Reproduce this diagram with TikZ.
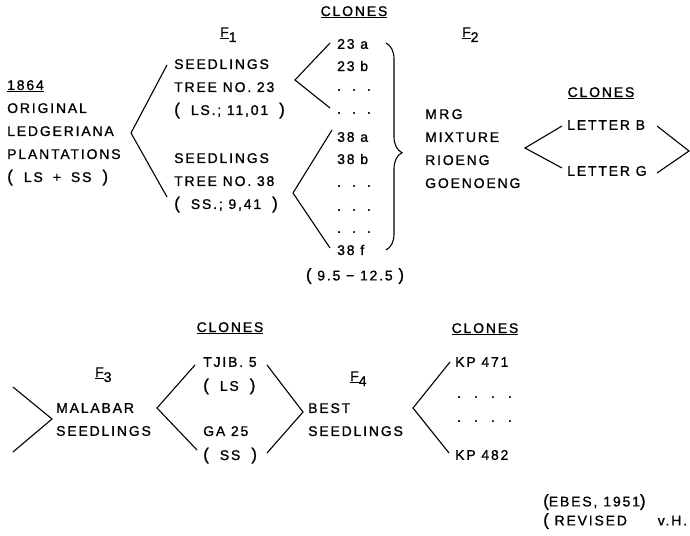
\documentclass[tikz,border=0pt]{standalone}
\usepackage{fontspec}
\setmainfont{Liberation Sans}[LetterSpace=13, FakeBold=1]
\usepackage{tikz}
\usetikzlibrary{decorations.pathreplacing}

\newcommand{\fgen}[1]{\underline{F}\raisebox{-5pt}{\fontsize{14}{14}\selectfont #1}}
\newcommand{\po}{{\fontsize{17}{17}\selectfont(}}
\newcommand{\pc}{{\fontsize{17}{17}\selectfont)}}
\newcommand{\pp}[1]{\po\hspace{11pt}#1\hspace{11pt}\pc}

\begin{document}
\begin{tikzpicture}[x=1pt, y=-1pt,
                lbl/.style={inner sep=0pt, anchor=west, font=\fontsize{14}{23}\selectfont},
                blk/.style={lbl, anchor=north west, align=left},
                head/.style={lbl, anchor=base},
                gen/.style={lbl, anchor=base west},
                fork/.style={line width=1.1pt}
            ]
            \useasboundingbox (0,0) rectangle (690,535);

            % Generations
            \node[gen] (f1) at (220,37) {\fgen{1}};
            \node[gen] (f2) at (462,37) {\fgen{2}};
            \node[gen] (f3) at (95,377) {\fgen{3}};
            \node[gen] (f4) at (350,381) {\fgen{4}};

            % Headings
            \node[head] (clonesA) at (354,16) {\underline{CLONES}};
            \node[head] (clonesB) at (601,97) {\underline{CLONES}};
            \node[head] (clonesC) at (230,332) {\underline{CLONES}};
            \node[head] (clonesD) at (485,333) {\underline{CLONES}};

            % Top row
            \node[blk] (orig) at (7,80) {\underline{1864}\\ORIGINAL\\LEDGERIANA\\PLANTATIONS\\\pp{LS\hspace{10pt}+\hspace{10pt}SS}};
            \node[blk] (seedA) at (174,59) {SEEDLINGS\\TREE NO. 23\\\pp{LS.; 11,01}};
            \node[blk] (seedB) at (174,153) {SEEDLINGS\\TREE NO. 38\\\pp{SS.; 9,41}};

            \node[lbl] (c23a) at (337,44) {23 a};
            \node[lbl] (c23b) at (337,66) {23 b};
            \node[lbl] (c23c) at (337,90) {.\hspace{11pt}.\hspace{11pt}.};
            \node[lbl] (c23d) at (337,113) {.\hspace{11pt}.\hspace{11pt}.};
            \node[lbl] (c38a) at (337,137) {38 a};
            \node[lbl] (c38b) at (337,159) {38 b};
            \node[lbl] (c38c) at (337,186) {.\hspace{11pt}.\hspace{11pt}.};
            \node[lbl] (c38d) at (337,210) {.\hspace{11pt}.\hspace{11pt}.};
            \node[lbl] (c38e) at (337,232) {.\hspace{11pt}.\hspace{11pt}.};
            \node[lbl] (c38f) at (337,250) {38 f};
            \node[lbl, anchor=center] (range) at (355,276) {\po{} 9.5 − 12.5 \pc};

            \node[blk] (mrg) at (425,109) {M\,R\,G\\MIXTURE\\RIOENG\\GOENOENG};
            \node[lbl] (letB) at (567,125) {LETTER B};
            \node[lbl] (letG) at (567,171) {LETTER G};

            % Bottom row
            \node[blk] (malabar) at (56,403) {MALABAR\\SEEDLINGS};
            \node[blk] (tjib) at (203,357) {TJIB. 5\\[1pt]\pp{LS}};
            \node[blk] (ga) at (203,426) {GA 25\\[1pt]\pp{SS}};
            \node[blk] (best) at (308,403) {BEST\\SEEDLINGS};
            \node[lbl] (kpA) at (455,362) {KP 471};
            \node[lbl] (kpB) at (457,397) {.\hspace{13pt}.\hspace{13pt}.\hspace{13pt}.};
            \node[lbl] (kpC) at (457,421) {.\hspace{13pt}.\hspace{13pt}.\hspace{13pt}.};
            \node[lbl] (kpD) at (455,455) {KP 482};

            \node[lbl] (ebes) at (543,502) {\po{}EBES,\hspace{6pt}1951\pc};
            \node[lbl] (rev) at (543,521) {\po{} REVISED\hspace{2.2em}v.H.};

            % Fork points
            \coordinate (aTop) at (167,65);  \coordinate (aTip) at (131,133); \coordinate (aBot) at (167,197);
            \coordinate (bTop) at (330,43);  \coordinate (bTip) at (295,80);  \coordinate (bBot) at (330,108);
            \coordinate (cTop) at (332,130); \coordinate (cTip) at (293,193); \coordinate (cBot) at (330,248);
            \coordinate (dTop) at (562,126); \coordinate (dTip) at (525,148); \coordinate (dBot) at (562,168);
            \coordinate (eTop) at (657,126); \coordinate (eTip) at (689,151); \coordinate (eBot) at (657,173);
            \coordinate (fTop) at (13,387);  \coordinate (fTip) at (52,419);  \coordinate (fBot) at (13,452);
            \coordinate (gTop) at (195,365); \coordinate (gTip) at (157,408); \coordinate (gBot) at (197,450);
            \coordinate (hTop) at (267,365); \coordinate (hTip) at (303,412); \coordinate (hBot) at (267,453);
            \coordinate (iTop) at (450,362); \coordinate (iTip) at (413,408); \coordinate (iBot) at (449,453);
            \coordinate (brTop) at (386,43); \coordinate (brBot) at (386,250);

            % Forks
            \draw[fork] (aTop) -- (aTip) -- (aBot);
            \draw[fork] (bTop) -- (bTip) -- (bBot);
            \draw[fork] (cTop) -- (cTip) -- (cBot);
            \draw[fork] (dTop) -- (dTip) -- (dBot);
            \draw[fork] (eTop) -- (eTip) -- (eBot);
            \draw[fork] (fTop) -- (fTip) -- (fBot);
            \draw[fork] (gTop) -- (gTip) -- (gBot);
            \draw[fork] (hTop) -- (hTip) -- (hBot);
            \draw[fork] (iTop) -- (iTip) -- (iBot);

            % Brace for the mixture
            \draw[fork, decorate, decoration={brace, amplitude=16pt, aspect=0.53}] (brTop) -- (brBot);

            \end{tikzpicture}
\end{document}
